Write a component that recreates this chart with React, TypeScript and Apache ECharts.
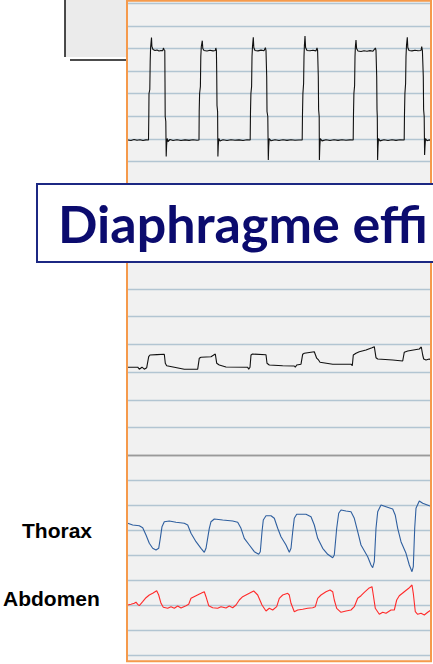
import React, { useEffect, useRef } from "react";
import * as echarts from "echarts";

// time axis (arbitrary units, 0..304)
const timeMax = 304;

// upper trace (square-wave like) [t, amplitude]
const upperTrace: number[][] = [
  [1, 21.5], [4, 21], [7, 22], [10, 21.2], [13, 21.8], [16, 21], [19, 21.6], [21.5, 21.5],
  [21.8, 45], [22, 68], [22.8, 72], [23.2, 100], [23.6, 114], [24.5, 124], [24.9, 115], [26, 112], [28, 111], [30, 111.5], [32, 110.5], [34, 111], [35.8, 110.8], [36.4, 113.5], [37, 112], [37.8, 111],
  [38, 80], [38.2, 45], [38.8, 40], [39.2, 5], [39.6, 16], [40.2, 23], [41, 20], [43, 22], [46, 21], [50, 21.8], [54, 21], [58, 21.6], [62, 21.1], [66, 21.8], [70, 21.2], [72, 21.5],
  [72.2, 50], [72.6, 68], [73.4, 75], [73.8, 105], [74.3, 115], [75.3, 120.8], [75.8, 113], [77, 111], [80, 110.5], [83, 111.2], [86, 110.6], [88.3, 111], [88.8, 113.5], [89.4, 111],
  [89.7, 90], [90, 56], [90.6, 50], [90.9, 5], [91.3, 16], [91.8, 23], [93, 20.5], [96, 21.7], [100, 21], [104, 21.8], [108, 21.2], [112, 21.6], [116, 21], [120, 21.8], [123.2, 21.5],
  [123.5, 50], [123.9, 68], [124.6, 75], [125, 105], [125.5, 115], [126.3, 124.2], [126.8, 114], [128, 111], [131, 110.6], [134, 111.4], [137, 110.7], [138.4, 113.8], [139, 111],
  [139.7, 85], [140, 50], [140.8, 45], [141.3, 1.5], [141.7, 15], [142.2, 23], [144, 20.7], [148, 21.8], [152, 21], [156, 21.7], [160, 21.1], [164, 21.8], [168, 21.2], [172, 21.5], [175.2, 21.5],
  [175.5, 48], [175.9, 68], [176.6, 78], [177, 105], [177.4, 116], [178, 125.5], [178.6, 114], [180, 111], [183, 110.7], [186, 111.3], [189, 110.6], [190, 113.5], [190.6, 111],
  [191.3, 85], [191.6, 52], [192.2, 45], [192.4, 1.5], [192.8, 15], [193.3, 23], [195, 20.6], [199, 21.8], [203, 21], [207, 21.7], [211, 21.1], [215, 21.8], [219, 21.2], [223, 21.6], [226.2, 21.5],
  [226.5, 48], [226.9, 68], [227.6, 76], [228, 105], [228.4, 115], [229, 121.5], [229.6, 113], [231, 110.5], [234, 110], [237, 110.8], [240, 110.2], [243, 110.9], [246, 110.3], [248.4, 113.5], [249, 111],
  [249.7, 85], [250, 52], [250.3, 45], [250.6, 1.5], [251, 15], [251.5, 23], [253, 20.6], [257, 21.8], [261, 21], [265, 21.7], [269, 21.1], [273, 21.8], [277.2, 21.5],
  [277.5, 48], [277.9, 68], [278.6, 78], [279, 105], [279.5, 116], [280.3, 124.2], [280.8, 114], [282, 111], [285, 110.6], [288, 111.2], [291, 110.7], [294, 111], [294.7, 114.8], [295.4, 111],
  [296.3, 85], [296.6, 52], [297.2, 45], [297.6, 6.5], [298, 15], [298.5, 23], [300, 20.8], [302, 21.6], [303.5, 21.2],
];

// middle trace [t, amplitude]
const middleTrace: number[][] = [
  [0.7, 88], [10.7, 88], [12.3, 86], [15, 88], [17.3, 86], [19.7, 87.5], [21.7, 98.5], [23, 100.2], [30, 100.6], [37.3, 100.9],
  [38.3, 92], [39.7, 89.5], [47.3, 88], [57.3, 86], [70.7, 86], [72.3, 97], [74, 98], [84, 98.5], [88.3, 101.2],
  [89.7, 92], [92.3, 90.2], [99, 88.2], [120.7, 88], [121.7, 86], [123, 88], [124, 100.2], [125.5, 101.2], [139, 100.5],
  [140, 92], [142.3, 90.2], [155.7, 89.5], [167.3, 89.2], [168.3, 88], [169.7, 90.2], [174, 91], [175.7, 101], [177.3, 102], [187.3, 103.5],
  [189.7, 97], [191.7, 95], [193, 93], [205.7, 91], [224, 91], [225.3, 89.5], [226.3, 100.2], [229, 102], [232.3, 103.5], [239, 105.2], [245, 107.5], [247.3, 108.5],
  [249, 97.5], [250.7, 96.2], [265.7, 95.2], [275.7, 94.2], [277.3, 103], [280.7, 104.2], [292.3, 106.2], [294.3, 108.2],
  [295.7, 100.2], [296.7, 96.2], [299, 95.2], [302.3, 96.2], [304, 95.2],
];

// Thorax [t, amplitude]
const thoraxTrace: number[][] = [
  [0.7, 131.9], [5.7, 130.2], [12.3, 129.5], [15.7, 127.5], [19, 120.2], [22.3, 111.9], [25.7, 106.9], [29, 105.2], [31.7, 106.9], [33.3, 116.9], [35, 128.5], [37.3, 133.5],
  [42.3, 134.2], [49, 132.9], [57.3, 131.9], [60.7, 130.2], [64, 121.9], [69, 113.5], [74, 106.9], [77.3, 102.9], [79, 106.9], [82.3, 126.9], [84, 133.5], [87.3, 136.2],
  [95.7, 135.2], [105.7, 134.2], [110.7, 132.9], [114, 126.9], [117.3, 116.9], [122.3, 110.2], [127.3, 103.5], [131.7, 100.9], [133.3, 103.5], [135, 123.5], [136.3, 135.2], [139, 139.5],
  [144, 139.5], [147.3, 136.9], [150.7, 126.9], [154, 118.5], [159, 110.2], [162.3, 102.9], [164, 106.9], [165.7, 123.5], [167.3, 136.9], [169.7, 140.9],
  [179, 140.9], [184, 138.5], [187.3, 130.2], [190.7, 116.9], [195.7, 106.9], [200.7, 100.9], [205.7, 97.5], [207.3, 100.2], [209.7, 126.9], [211.7, 141.9], [214, 145.2],
  [219, 144.2], [224, 143.5], [227.3, 136.9], [230.7, 123.5], [234, 110.2], [240.7, 98.5], [244, 90.2], [245.7, 87.5], [247.3, 93.5], [249, 126.9], [250.7, 143.5], [254, 150.2],
  [259, 148.5], [265.7, 146.2], [268.3, 139.9], [270.7, 126.9], [274, 113.5], [279, 101.9], [282.3, 90.2], [285, 83.5], [286.3, 88.5], [287.7, 126.9], [289, 146.9], [292.3, 154.2],
  [295.7, 151.9], [302.3, 149.5], [304, 149],
];

// Abdomen [t, amplitude]
const abdomenTrace: number[][] = [
  [0.7, 50.2], [4, 50.9], [7.3, 51.9], [9, 53], [10.7, 50.9], [12.3, 49.5], [15.7, 53.5], [19, 57.5], [22.3, 60.2], [25.7, 61.9], [29.7, 64.5], [31.7, 60.2], [34, 51.9], [36.3, 47.9],
  [40.7, 46.9], [44, 48.5], [47.3, 46.9], [50.7, 49.2], [54, 47.2], [59, 49.5], [61.7, 50.9], [64, 56.9], [69, 59.5], [74, 61.9], [77.3, 63.5], [79, 58.5], [81.7, 49.5], [85.7, 47.5],
  [90.7, 46.9], [94, 48.5], [99, 47.2], [102.3, 49.2], [105.7, 47.5], [109, 50.2], [112.3, 55.2], [115.7, 58.5], [119, 60.2], [122.3, 61.9], [126.7, 64.2], [130.7, 60.2], [135, 50.2], [139, 44.2],
  [142.3, 46.9], [145.7, 45.2], [149.7, 48.5], [152.3, 56.9], [155.7, 60.2], [160.7, 61.9], [162.3, 60.2], [164, 51.9], [167.3, 43.5], [170.7, 45.2], [175.7, 45.9], [180.7, 46.9], [185.7, 47.5],
  [188.3, 48.5], [190.7, 56.9], [194, 60.2], [199, 63.5], [203, 65.2], [205.7, 63.5], [207.3, 55.2], [209.7, 46.9], [214, 42.9], [219, 44.2], [224, 45.2], [227.3, 48.5], [230.7, 56.9],
  [234, 59.5], [237.3, 62.9], [241.7, 66.9], [245, 68.5], [246.3, 60.2], [248.3, 46.9], [252.3, 40.9], [255.7, 42.9], [259, 41.9], [264, 45.2], [267.3, 45.2], [269.7, 55.2], [272.3, 59.5],
  [277.3, 63.5], [281.7, 66.9], [285, 70.2], [286.3, 61.9], [288.3, 43.5], [290.7, 40.9], [294, 41.9], [297.3, 40.2], [300.7, 42.9], [304, 45.2],
];

const channelLabels = ["Thorax", "Abdomen"];
const titleText = "Diaphragme effi";

const gridLine = "#b2c5d2";
const darkLine = "#9a9a9a";

export default function App() {
  const ref = useRef<HTMLDivElement>(null);
  useEffect(() => {
    if (!ref.current) return;
    const chart = echarts.init(ref.current, undefined, { renderer: "svg" });
    const hiddenX = (gridIndex: number) => ({
      type: "value" as const, gridIndex, min: 0, max: timeMax, show: false,
    });
    const yAx = (gridIndex: number, max: number, interval: number, colors: string[] | string) => ({
      type: "value" as const, gridIndex, min: 0, max, interval,
      axisLine: { show: false }, axisTick: { show: false }, axisLabel: { show: false },
      splitLine: { show: true, lineStyle: { color: colors, width: 1.3 } },
    });
    const line = (data: number[][], idx: number, color: string, name: string) => ({
      type: "line" as const, name, xAxisIndex: idx, yAxisIndex: idx, data,
      showSymbol: false, symbol: "none", smooth: false,
      lineStyle: { color, width: 1.1 }, z: 5,
    });
    chart.setOption({
      animation: false,
      grid: [
        { left: 127, width: 304, top: 3.3, height: 158.2 },
        { left: 127, width: 304, top: 289, height: 166.2 },
        { left: 127, width: 304, top: 455.2, height: 200 },
      ],
      xAxis: [hiddenX(0), hiddenX(1), hiddenX(2)],
      yAxis: [
        yAx(0, 158.2, 22.6, gridLine),
        yAx(1, 166.2, 27.7, [darkLine, gridLine, gridLine, gridLine, gridLine, gridLine, gridLine]),
        yAx(2, 200, 25, [gridLine, gridLine, gridLine, gridLine, gridLine, gridLine, gridLine, gridLine, darkLine]),
      ],
      series: [
        line(upperTrace, 0, "#111111", "upper"),
        line(middleTrace, 1, "#111111", "middle"),
        line(thoraxTrace, 2, "#2f5f9f", channelLabels[0]),
        line(abdomenTrace, 2, "#ff2b2b", channelLabels[1]),
      ],
      graphic: [
        { type: "rect", z: -2, silent: true, shape: { x: 65, y: -2, width: 64, height: 59 }, style: { fill: "#ebebeb" } },
        { type: "line", z: -1, silent: true, shape: { x1: 65, y1: 0, x2: 65, y2: 57 }, style: { stroke: "#111", lineWidth: 1.5 } },
        { type: "line", z: -1, silent: true, shape: { x1: 70, y1: 60, x2: 127, y2: 60 }, style: { stroke: "#111", lineWidth: 1.5 } },
        { type: "rect", z: -1, silent: true, shape: { x: 127, y: 1, width: 304, height: 660 }, style: { fill: "#f1f1f1" } },
        { type: "rect", z: 50, silent: true, shape: { x: 127, y: 0.8, width: 304, height: 660.4 }, style: { fill: "none", stroke: "#f59a4c", lineWidth: 2 } },
        { type: "rect", z: 100, silent: true, shape: { x: 37, y: 184, width: 420, height: 78 }, style: { fill: "#ffffff", stroke: "#1c2883", lineWidth: 2 } },
        { type: "text", z: 101, silent: true, x: 58, y: 223, style: { text: titleText, fill: "#0b0b6e", font: "bold 52px Lato, 'Noto Sans', sans-serif", textAlign: "left", verticalAlign: "middle" } },
        { type: "text", z: 101, silent: true, x: 22, y: 530, style: { text: channelLabels[0], fill: "#000", font: "bold 21px 'Liberation Sans', Arial, sans-serif", textAlign: "left", verticalAlign: "middle" } },
        { type: "text", z: 101, silent: true, x: 3, y: 598, style: { text: channelLabels[1], fill: "#000", font: "bold 21px 'Liberation Sans', Arial, sans-serif", textAlign: "left", verticalAlign: "middle" } },
      ],
    });
    return () => chart.dispose();
  }, []);
  return <div ref={ref} style={{ position: "absolute", left: 0, top: 0, width: 433, height: 664, background: "#ffffff" }} />;
}
